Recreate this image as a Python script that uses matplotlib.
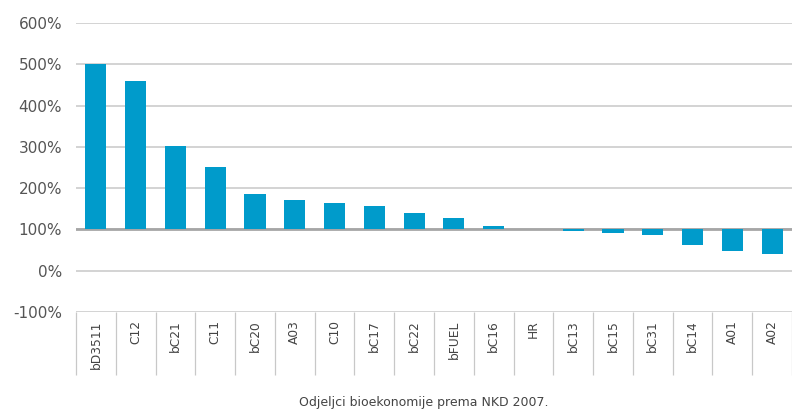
import matplotlib
matplotlib.use("Agg")
import matplotlib.pyplot as plt
import numpy as np

categories = ["bD3511", "C12", "bC21", "C11", "bC20", "A03", "C10", "bC17", "bC22",
              "bFUEL", "bC16", "HR", "bC13", "bC15", "bC31", "bC14", "A01", "A02"]
values = [500, 459, 303, 250, 185, 170, 163, 156, 139,
          127, 107, 100, 97, 92, 87, 62, 48, 40]
yticks = [-100, 0, 100, 200, 300, 400, 500, 600]
base = 100

fig = plt.figure(figsize=(7.92, 4.12), dpi=100)
ax = fig.add_axes([0.096, 0.243, 0.904, 0.701])

x = np.arange(len(categories))
ax.bar(x, np.array(values) - base, bottom=base, width=0.53, color="#009bcb", zorder=3)

ax.set_xlim(-0.5, len(categories) - 0.5)
ax.set_ylim(-100, 600)
ax.set_yticks(yticks)
ax.set_yticklabels([f"{t}%" for t in yticks])
for t in yticks:
    ax.axhline(t, color="#c8c8c8", lw=1.1, zorder=1)
ax.axhline(base, color="#a6a6a6", lw=2.0, zorder=2)

for s in ax.spines.values():
    s.set_visible(False)

ax.set_xticks(x)
ax.set_xticklabels(categories, rotation=90, fontsize=8.8, color="#444444")
ax.set_xticks(np.arange(len(categories) + 1) - 0.5, minor=True)
ax.tick_params(axis="x", which="major", length=0, pad=6)
ax.tick_params(axis="x", which="minor", length=45, width=0.9, color="#c8c8c8", direction="out")
ax.tick_params(axis="y", length=0, labelsize=11, labelcolor="#555555", pad=10)

fig.text(0.535, 0.008, "Odjeljci bioekonomije prema NKD 2007.", ha="center", va="bottom",
         fontsize=9, color="#444444")

fig.savefig("out.png", dpi=100)
